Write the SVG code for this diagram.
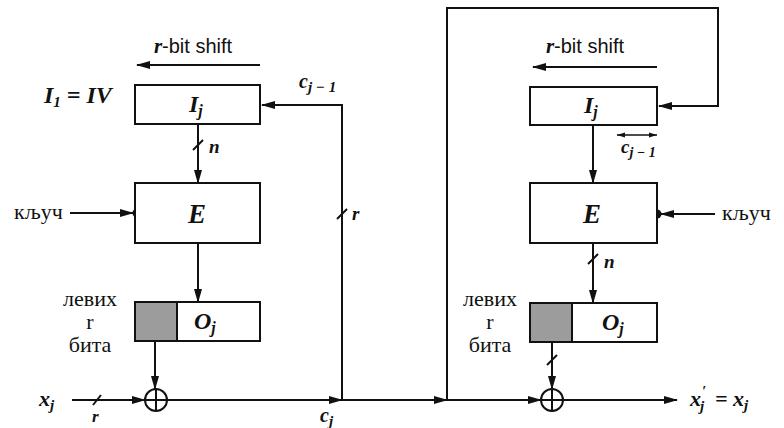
<svg xmlns="http://www.w3.org/2000/svg" width="784" height="428" viewBox="0 0 784 428">
<style>
.ln{stroke:#111;stroke-width:2;fill:none}
.bx{stroke:#111;stroke-width:2;fill:#fff}
.sh{stroke:#111;stroke-width:2;fill:#9c9c9c}
.m{font-family:"Liberation Serif",serif;font-style:italic;font-weight:bold;fill:#111}
.cy{font-family:"Liberation Serif",serif;font-size:22px;fill:#111}
.sf{font-family:"Liberation Sans",sans-serif;font-size:20px;fill:#111}
</style>
<defs>
<marker id="ah" markerUnits="userSpaceOnUse" markerWidth="14" markerHeight="10" refX="13" refY="5" orient="auto">
<path d="M0,1 L14,5 L0,9 Z" fill="#111"/>
</marker>
<marker id="sa" markerUnits="userSpaceOnUse" markerWidth="8" markerHeight="6" refX="8" refY="3" orient="auto-start-reverse">
<path d="M0,0.5 L8,3 L0,5.5 Z" fill="#111"/>
</marker>
</defs>

<g id="connectors">
<line class="ln" x1="260" y1="65" x2="137" y2="65" marker-end="url(#ah)"/>
<path class="ln" d="M342,400 L342,105 L262,105" marker-end="url(#ah)"/>
<line class="ln" x1="198" y1="124" x2="198" y2="183" marker-end="url(#ah)"/>
<line class="ln" x1="193" y1="150" x2="203" y2="140"/>
<line class="ln" x1="70" y1="213" x2="133" y2="213" marker-end="url(#ah)"/>
<circle cx="137" cy="213" r="4.5" fill="#111"/>
<line class="ln" x1="337" y1="219" x2="347" y2="209"/>
<line class="ln" x1="198" y1="243" x2="198" y2="302" marker-end="url(#ah)"/>
<line class="ln" x1="155" y1="341" x2="155" y2="389" marker-end="url(#ah)"/>
<line class="ln" x1="72" y1="400" x2="145" y2="400" marker-end="url(#ah)"/>
<line class="ln" x1="93" y1="405" x2="101" y2="395"/>
<line class="ln" x1="167" y1="400" x2="342" y2="400" marker-end="url(#ah)"/>
<line class="ln" x1="342" y1="400" x2="447" y2="400" marker-end="url(#ah)"/>
<path class="ln" d="M447,400 L447,8 L718,8 L718,106 L659,106" marker-end="url(#ah)"/>
<line class="ln" x1="657" y1="67" x2="533" y2="67" marker-end="url(#ah)"/>
<line x1="617" y1="135" x2="657" y2="135" stroke="#111" stroke-width="1.5" marker-start="url(#sa)" marker-end="url(#sa)"/>
<line class="ln" x1="593" y1="125" x2="593" y2="183" marker-end="url(#ah)"/>
<line class="ln" x1="715" y1="214" x2="661" y2="214" marker-end="url(#ah)"/>
<circle cx="657" cy="214" r="4.5" fill="#111"/>
<line class="ln" x1="593" y1="243" x2="593" y2="303" marker-end="url(#ah)"/>
<line class="ln" x1="588" y1="264" x2="598" y2="254"/>
<line class="ln" x1="552" y1="342" x2="552" y2="389" marker-end="url(#ah)"/>
<line class="ln" x1="547" y1="365" x2="557" y2="355"/>
<line class="ln" x1="447" y1="400" x2="541" y2="400" marker-end="url(#ah)"/>
<line class="ln" x1="563" y1="400" x2="677" y2="400" marker-end="url(#ah)"/>
</g>

<g id="labels-left">
<text class="sf" x="193" y="53" text-anchor="middle"><tspan class="m" font-size="21">r</tspan>-bit shift</text>
<text class="m" font-size="24" x="44" y="103">I<tspan font-size="15" dy="4">1</tspan><tspan dy="-4"> = IV</tspan></text>
<text class="m" font-size="20" x="299" y="88">c<tspan font-size="15" dy="4">j − 1</tspan></text>
<text class="m" font-size="19" x="209" y="153">n</text>
<text class="m" font-size="19" x="352" y="220">r</text>
<text class="cy" x="14" y="219">кључ</text>
<text class="cy" x="90" y="306" text-anchor="middle">левих</text>
<text class="cy" x="90" y="329" text-anchor="middle">r</text>
<text class="cy" x="90" y="352" text-anchor="middle">бита</text>
<text class="m" font-size="22" x="39" y="406">x<tspan font-size="15" dy="4">j</tspan></text>
<text class="m" font-size="17" x="92" y="422">r</text>
<text class="m" font-size="20" x="320" y="422">c<tspan font-size="15" dy="4">j</tspan></text>
</g>

<g id="node-Ij-left">
<rect class="bx" x="135" y="85" width="125" height="39"/>
<text class="m" font-size="24" x="189" y="112">I<tspan font-size="16" dy="4">j</tspan></text>
</g>
<g id="node-E-left">
<rect class="bx" x="135" y="183" width="125" height="60"/>
<text class="m" font-size="27" x="197" y="223" text-anchor="middle">E</text>
</g>
<g id="node-Oj-left">
<rect class="bx" x="135" y="302" width="125" height="39"/>
<rect class="sh" x="135" y="302" width="42" height="39"/>
<text class="m" font-size="24" x="194" y="329">O<tspan font-size="16" dy="4">j</tspan></text>
</g>
<g id="node-xor-left">
<circle class="ln" cx="156" cy="400" r="11"/>
<line class="ln" x1="145" y1="400" x2="167" y2="400"/>
<line class="ln" x1="156" y1="389" x2="156" y2="411"/>
</g>

<g id="labels-right">
<text class="sf" x="585" y="53" text-anchor="middle"><tspan class="m" font-size="21">r</tspan>-bit shift</text>
<text class="m" font-size="19" x="621" y="153">c<tspan font-size="14" dy="4">j − 1</tspan></text>
<text class="m" font-size="19" x="604" y="268">n</text>
<text class="cy" x="722" y="220">кључ</text>
<text class="cy" x="490" y="306" text-anchor="middle">левих</text>
<text class="cy" x="490" y="329" text-anchor="middle">r</text>
<text class="cy" x="490" y="352" text-anchor="middle">бита</text>
<text class="m" font-size="22" x="690" y="406">x</text>
<text class="m" font-size="15" x="702" y="396">′</text>
<text class="m" font-size="15" x="700" y="411">j</text>
<text class="m" font-size="22" x="715" y="406">= x<tspan font-size="15" dy="4">j</tspan></text>
</g>

<g id="node-Ij-right">
<rect class="bx" x="530" y="87" width="127" height="38"/>
<text class="m" font-size="24" x="584" y="113">I<tspan font-size="16" dy="4">j</tspan></text>
</g>
<g id="node-E-right">
<rect class="bx" x="530" y="183" width="127" height="60"/>
<text class="m" font-size="27" x="592" y="223" text-anchor="middle">E</text>
</g>
<g id="node-Oj-right">
<rect class="bx" x="530" y="303" width="127" height="39"/>
<rect class="sh" x="530" y="303" width="42" height="39"/>
<text class="m" font-size="24" x="602" y="330">O<tspan font-size="16" dy="4">j</tspan></text>
</g>
<g id="node-xor-right">
<circle class="ln" cx="552" cy="400" r="11"/>
<line class="ln" x1="541" y1="400" x2="563" y2="400"/>
<line class="ln" x1="552" y1="389" x2="552" y2="411"/>
</g>
</svg>
